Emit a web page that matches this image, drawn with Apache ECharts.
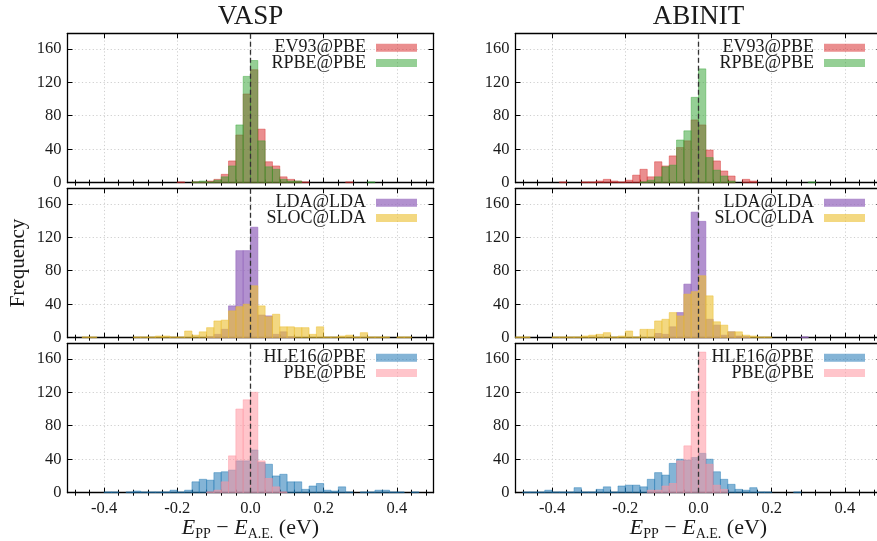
<!DOCTYPE html>
<html>
<head>
<meta charset="utf-8">
<script src="https://cdn.jsdelivr.net/npm/echarts@6/dist/echarts.min.js"></script>
<style>
html,body{margin:0;padding:0;background:#fff;}
#chart{width:877px;height:541px;}
</style>
</head>
<body>
<div id="chart"></div>
<script>
// ---------------- DATA ----------------
const COLUMN_TITLES = ['VASP', 'ABINIT'];
// histogram bin edges (eV), width 0.02
const BIN_EDGES = [-0.50,-0.48,-0.46,-0.44,-0.42,-0.40,-0.38,-0.36,-0.34,-0.32,
  -0.30,-0.28,-0.26,-0.24,-0.22,-0.20,-0.18,-0.16,-0.14,-0.12,
  -0.10,-0.08,-0.06,-0.04,-0.02,0.00,0.02,0.04,0.06,0.08,
  0.10,0.12,0.14,0.16,0.18,0.20,0.22,0.24,0.26,0.28,
  0.30,0.32,0.34,0.36,0.38,0.40,0.42,0.44,0.46,0.48,0.50];

const X_MAJOR_TICKS = [-0.4,-0.2,0.0,0.2,0.4];
const X_MINOR_TICKS = [-0.48,-0.44,-0.36,-0.32,-0.28,-0.24,-0.16,-0.12,-0.08,-0.04,
  0.04,0.08,0.12,0.16,0.24,0.28,0.32,0.36,0.44,0.48];
const Y_TICKS = [0,40,80,120,160];
const ZERO_LINE = 0;

// VASP
const VASP_EV93 = [0,0,0,0,0,0,0,0,0,0, 0,0,0,0,0,1,0,1,1,2, 4,10,26,57,106,135,64,25,20,7, 4,2,1,0,0,0,0,0,1,0, 0,0,0,0,0,0,0,0,0,0];
const VASP_RPBE = [0,0,0,0,0,0,0,0,0,0, 0,0,0,0,0,0,0,1,2,1, 3,7,20,69,127,146,50,19,16,4, 2,2,0,0,0,0,0,0,0,0, 0,1,0,0,0,0,0,0,0,0];
const VASP_LDA  = [0,0,0,0,0,0,0,0,0,0, 0,0,0,0,0,0,0,0,0,1, 4,10,38,104,104,132,27,26,4,7, 1,0,0,0,0,0,0,0,0,0, 0,0,0,0,0,0,0,0,0,0];
const VASP_SLOC = [0,0,1,1,0,0,0,0,0,1, 1,1,2,2,1,1,8,3,7,12, 20,21,32,37,40,62,38,25,28,13, 13,12,12,4,13,1,1,2,3,1, 6,1,1,1,0,1,1,0,0,0];
const VASP_HLE16= [0,0,0,0,0,1,1,0,1,2, 1,1,1,1,3,1,3,13,16,15, 24,25,27,38,38,51,36,34,20,22, 13,13,4,8,11,3,2,7,1,0, 1,1,3,3,1,1,0,1,0,0];
const VASP_PBE  = [0,0,0,0,0,0,0,0,0,0, 0,0,0,0,0,0,0,0,0,1, 3,13,44,100,111,120,38,17,7,1, 0,0,0,0,0,0,0,0,0,0, 0,0,0,0,0,0,0,0,0,0];
// ABINIT
const ABINIT_EV93 = [0,0,0,0,0,0,1,0,0,1, 1,2,4,2,1,3,9,16,7,25, 20,32,42,50,75,69,39,26,14,8, 0,4,2,0,0,0,0,0,0,0, 0,0,0,0,0,0,0,0,0,0];
const ABINIT_RPBE = [0,0,0,0,0,0,0,0,0,0, 0,0,0,0,0,0,0,1,3,7, 19,21,51,62,102,136,30,15,8,2, 0,0,0,0,0,0,0,0,0,0, 1,0,0,0,0,0,0,0,0,0];
const ABINIT_LDA  = [0,0,0,0,0,0,0,0,0,0, 0,0,0,0,0,0,0,0,0,5, 4,13,30,64,150,139,22,15,3,7, 2,1,0,0,0,0,0,0,0,1, 0,0,0,0,0,0,0,0,0,0];
const ABINIT_SLOC = [1,1,0,0,0,1,1,1,1,2, 3,4,6,1,2,8,1,10,10,20, 22,30,26,52,55,74,50,19,15,7, 7,3,2,1,1,0,0,0,0,0, 0,0,0,0,0,0,0,0,0,0];
const ABINIT_HLE16= [0,1,1,1,3,1,1,1,6,1, 1,4,7,1,8,9,9,7,16,24, 21,35,40,39,42,47,40,25,16,10, 4,3,6,1,1,0,0,0,1,0, 0,0,0,0,0,0,0,0,0,0];
const ABINIT_PBE  = [0,0,0,0,0,0,0,0,0,0, 0,0,0,0,0,0,0,0,3,3, 8,11,38,56,121,168,34,9,4,0, 0,0,0,0,0,0,0,0,0,0, 0,0,0,0,0,0,0,0,0,0];

const SERIES_NAMES = [['EV93@PBE','RPBE@PBE'],['LDA@LDA','SLOC@LDA'],['HLE16@PBE','PBE@PBE']];
const SERIES_COLORS = [['rgba(214,39,40,0.52)','rgba(44,160,44,0.5)'],
                       ['rgba(148,103,189,0.72)','rgba(236,192,52,0.62)'],
                       ['rgba(31,119,180,0.55)','rgba(255,150,160,0.55)']];
const PANEL_DATA = [
  [[VASP_EV93, VASP_RPBE],[ABINIT_EV93, ABINIT_RPBE]],
  [[VASP_LDA, VASP_SLOC],[ABINIT_LDA, ABINIT_SLOC]],
  [[VASP_HLE16, VASP_PBE],[ABINIT_HLE16, ABINIT_PBE]]
];

// ---------------- LAYOUT / STYLE ----------------
const FONT = '"Liberation Serif", "DejaVu Serif", serif';
const TXT = '#1a1a1a';
const COL_LEFT = [67.5, 515.5];
const COL_CENTER = [250.5, 698.5];
const PANEL_W = 366;
const ROW_TOP = [33.3, 188.3, 343.3];
const PANEL_H = 149.4;
const Y_MAX = 178.5;
const LEGEND_RIGHT = [460, 12];

const chart = echarts.init(document.getElementById('chart'), null, {renderer: 'canvas'});

const grids = [], xAxes = [], yAxes = [], series = [], legends = [];
const axisLineStyle = {color: '#000', width: 1.3};
const gridLineStyle = {type: [1.2, 2.4], color: '#cfcfcf', width: 1};

for (let r = 0; r < 3; r++) {
  for (let c = 0; c < 2; c++) {
    const g = grids.length;
    grids.push({left: COL_LEFT[c], top: ROW_TOP[r], width: PANEL_W, height: PANEL_H,
                containLabel: false, outerBoundsMode: 'none'});
    const bottomRow = (r === 2);
    const xMain = xAxes.length;
    const xMainAxis = {
      type: 'value', gridIndex: g, min: -0.5, max: 0.5, position: 'bottom',
      axisLine: {show: true, onZero: false, lineStyle: axisLineStyle},
      axisTick: {show: true, inside: true, length: 5, customValues: X_MAJOR_TICKS, lineStyle: {color: '#000', width: 1}},
      axisLabel: {show: bottomRow, customValues: X_MAJOR_TICKS, margin: 7,
        formatter: v => v.toFixed(1), fontFamily: FONT, fontSize: 16.5, color: TXT},
      splitLine: {show: true, lineStyle: gridLineStyle},
      minorTick: {show: false}
    };
    if (bottomRow) {
      xMainAxis.name = '{i|E}{s|PP}{t| − }{i|E}{s|A.E.}{t| (eV)}';
      xMainAxis.nameLocation = 'middle';
      xMainAxis.nameGap = 20;
      xMainAxis.nameTextStyle = {
        color: TXT,
        rich: {
          i: {fontFamily: FONT, fontStyle: 'italic', fontSize: 22, lineHeight: 26, color: TXT},
          t: {fontFamily: FONT, fontSize: 22, lineHeight: 26, color: TXT},
          s: {fontFamily: FONT, fontSize: 14, lineHeight: 14, verticalAlign: 'bottom', color: TXT}
        }
      };
    }
    xAxes.push(xMainAxis);
    // minor ticks bottom
    xAxes.push({type: 'value', gridIndex: g, min: -0.5, max: 0.5, position: 'bottom',
      axisLine: {show: false},
      axisTick: {show: true, inside: true, length: 3, customValues: X_MINOR_TICKS, lineStyle: {color: '#000', width: 1}},
      axisLabel: {show: false}, splitLine: {show: false}});
    // top axis (mirror)
    xAxes.push({type: 'value', gridIndex: g, min: -0.5, max: 0.5, position: 'top',
      axisLine: {show: true, onZero: false, lineStyle: axisLineStyle},
      axisTick: {show: true, inside: true, length: 5, customValues: X_MAJOR_TICKS, lineStyle: {color: '#000', width: 1}},
      axisLabel: {show: false}, splitLine: {show: false}});
    xAxes.push({type: 'value', gridIndex: g, min: -0.5, max: 0.5, position: 'top',
      axisLine: {show: false},
      axisTick: {show: true, inside: true, length: 3, customValues: X_MINOR_TICKS, lineStyle: {color: '#000', width: 1}},
      axisLabel: {show: false}, splitLine: {show: false}});

    const yMain = yAxes.length;
    const yLeft = {
      type: 'value', gridIndex: g, min: 0, max: Y_MAX, position: 'left',
      axisLine: {show: true, onZero: false, lineStyle: axisLineStyle},
      axisTick: {show: true, inside: true, length: 5, customValues: Y_TICKS, lineStyle: {color: '#000', width: 1}},
      axisLabel: {show: true, customValues: Y_TICKS, margin: 6, fontFamily: FONT, fontSize: 16.5, color: TXT,
        formatter: v => String(Math.round(v))},
      splitLine: {show: true, lineStyle: gridLineStyle}
    };
    if (r === 1 && c === 0) {
      yLeft.name = 'Frequency';
      yLeft.nameLocation = 'middle';
      yLeft.nameGap = 39;
      yLeft.nameTextStyle = {fontFamily: FONT, fontSize: 21, color: TXT};
    }
    yAxes.push(yLeft);
    yAxes.push({type: 'value', gridIndex: g, min: 0, max: Y_MAX, position: 'right',
      axisLine: {show: true, onZero: false, lineStyle: axisLineStyle},
      axisTick: {show: true, inside: true, length: 5, customValues: Y_TICKS, lineStyle: {color: '#000', width: 1}},
      axisLabel: {show: false}, splitLine: {show: false}});

    for (let j = 0; j < 2; j++) {
      const counts = PANEL_DATA[r][c][j];
      const color = SERIES_COLORS[r][j];
      const data = counts.map((v, i) => [BIN_EDGES[i], v, BIN_EDGES[i + 1]]);
      const s = {
        type: 'custom', name: SERIES_NAMES[r][j],
        xAxisIndex: xMain, yAxisIndex: yMain,
        itemStyle: {color: color},
        encode: {x: [0, 2], y: 1},
        data: data,
        z: 2 + j,
        renderItem: (params, api) => {
          const h = api.value(1);
          if (!h) return null;
          const p0 = api.coord([api.value(0), h]);
          const p1 = api.coord([api.value(2), 0]);
          return {type: 'rect',
            shape: {x: p0[0], y: p0[1], width: p1[0] - p0[0], height: p1[1] - p0[1]},
            style: {fill: color, stroke: color, lineWidth: 0.8}};
        }
      };
      if (j === 1) {
        s.markLine = {symbol: ['none', 'none'], silent: true, animation: false, z: 10,
          label: {show: false},
          lineStyle: {type: [5, 3], color: '#333', width: 1.3},
          emphasis: {disabled: true},
          data: [{xAxis: ZERO_LINE}]};
      }
      series.push(s);
      legends.push({
        show: true, orient: 'horizontal', align: 'right', padding: 0,
        right: LEGEND_RIGHT[c], top: ROW_TOP[r] + 13.4 + j * 15.3 - 8,
        itemWidth: 41, itemHeight: 8, icon: 'rect', selectedMode: false,
        textStyle: {fontFamily: FONT, fontSize: 18, lineHeight: 16, color: TXT, padding: [0, 5, 0, 0]},
        data: [{name: SERIES_NAMES[r][j], icon: 'rect', itemStyle: {color: color}}]
      });
    }
  }
}

const option = {
  animation: false,
  backgroundColor: '#fff',
  title: COLUMN_TITLES.map((t, c) => ({
    text: t, left: COL_CENTER[c], top: 2, textAlign: 'center', padding: 0,
    textStyle: {fontFamily: FONT, fontSize: 27, fontWeight: 'normal', color: TXT, lineHeight: 30}
  })),
  legend: legends,
  grid: grids,
  xAxis: xAxes,
  yAxis: yAxes,
  series: series
};
chart.setOption(option);
</script>
</body>
</html>
